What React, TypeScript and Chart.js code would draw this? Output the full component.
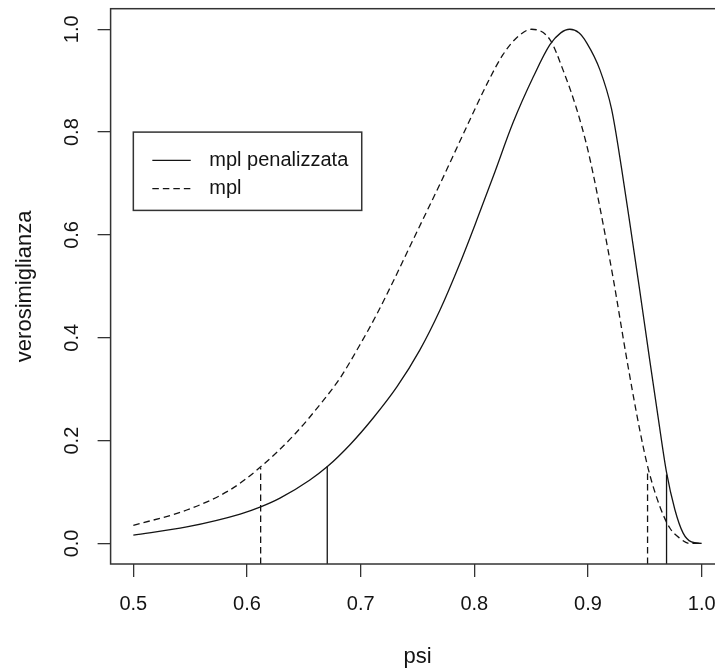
import React, { useEffect, useRef } from "react";
import { Chart, registerables } from "chart.js";

Chart.register(...registerables);

// ---- data ----
const xTicks = [0.5, 0.6, 0.7, 0.8, 0.9, 1.0];
const yTicks = [0.0, 0.2, 0.4, 0.6, 0.8, 1.0];

const xTitle = "psi";
const yTitle = "verosimiglianza";
const legendLabels = ["mpl penalizzata", "mpl"];

// mpl penalizzata (solid)
const psiPen = [
  0.5, 0.547, 0.594, 0.612, 0.629, 0.655, 0.671, 0.691, 0.711, 0.732, 0.752,
  0.77, 0.787, 0.802, 0.817, 0.834, 0.852, 0.8665, 0.876, 0.884, 0.892, 0.899,
  0.9105, 0.9207, 0.9295, 0.938, 0.945, 0.9544, 0.9617, 0.9691, 0.9764,
  0.9837, 0.991, 1.0,
];
const likPen = [
  0.016, 0.032, 0.057, 0.071, 0.088, 0.123, 0.15, 0.193, 0.244, 0.305, 0.376,
  0.455, 0.543, 0.628, 0.716, 0.818, 0.908, 0.97, 0.993, 1.0, 0.993, 0.973,
  0.921, 0.845, 0.73, 0.605, 0.5, 0.355, 0.245, 0.138, 0.066, 0.02, 0.003, 0.0,
];

// mpl (dashed)
const psiMpl = [
  0.5, 0.547, 0.585, 0.611, 0.641, 0.666, 0.682, 0.699, 0.714, 0.7287, 0.7434,
  0.758, 0.77, 0.79, 0.8137, 0.825, 0.837, 0.8504, 0.8665, 0.878, 0.89, 0.8988,
  0.9046, 0.9134, 0.9222, 0.934, 0.9456, 0.953, 0.9632, 0.972, 0.9808, 0.9896,
  1.0,
];
const likMpl = [
  0.035, 0.065, 0.104, 0.147, 0.21, 0.275, 0.322, 0.385, 0.445, 0.51, 0.578,
  0.645, 0.7, 0.795, 0.905, 0.95, 0.983, 1.0, 0.98, 0.921, 0.845, 0.775, 0.718,
  0.62, 0.515, 0.36, 0.22, 0.145, 0.072, 0.03, 0.01, 0.0, 0.0,
];

// interval limits (vertical segments)
const ciPenPsi = [0.6706, 0.9691];
const ciPenTop = [0.15, 0.134];
const ciMplPsi = [0.612, 0.9524];
const ciMplTop = [0.147, 0.143];

const xMin = 0.48;
const xMax = 1.02;
const yMin = -0.04;
const yMax = 1.04;
const legendAnchor = [0.5, 0.8];

const FONT = "'Liberation Sans', Arial, sans-serif";
const INK = "#141414";
const DASH = [6.5, 4];

const pts = (xs: number[], ys: number[]) => xs.map((x, i) => ({ x, y: ys[i] }));

const framePlugin = {
  id: "rframe",
  afterDraw(chart: any) {
    const { ctx, chartArea: a, scales } = chart;
    ctx.save();
    ctx.strokeStyle = "#333";
    ctx.lineWidth = 1.5;
    ctx.strokeRect(a.left, a.top, a.right - a.left, a.bottom - a.top);

    // legend box
    const lx = scales.x.getPixelForValue(legendAnchor[0]);
    const ly = scales.y.getPixelForValue(legendAnchor[1]);
    const w = 228.4;
    const h = 78.3;
    ctx.fillStyle = "#fff";
    ctx.fillRect(lx, ly, w, h);
    ctx.strokeRect(lx, ly, w, h);
    ctx.font = `20px ${FONT}`;
    ctx.textBaseline = "middle";
    ctx.textAlign = "left";
    ctx.fillStyle = INK;
    ctx.strokeStyle = INK;
    ctx.lineWidth = 1.3;
    legendLabels.forEach((lab, i) => {
      const yy = ly + 28.3 + i * 28.3;
      ctx.setLineDash(i === 0 ? [] : DASH);
      ctx.beginPath();
      ctx.moveTo(lx + 19, yy);
      ctx.lineTo(lx + 57.4, yy);
      ctx.stroke();
      ctx.fillText(lab, lx + 76, yy);
    });
    ctx.restore();
  },
};

export default function App() {
  const ref = useRef<HTMLCanvasElement | null>(null);

  useEffect(() => {
    if (!ref.current) return;
    Chart.defaults.font.family = FONT;
    Chart.defaults.color = INK;

    const solid = { borderColor: INK, borderWidth: 1.3, pointRadius: 0, showLine: true, fill: false };
    const dashed = { ...solid, borderDash: DASH };

    const datasets: any[] = [
      { ...solid, label: legendLabels[0], data: pts(psiPen, likPen), cubicInterpolationMode: "monotone" },
      { ...dashed, label: legendLabels[1], data: pts(psiMpl, likMpl), cubicInterpolationMode: "monotone" },
    ];
    ciPenPsi.forEach((p, i) =>
      datasets.push({ ...solid, label: "", data: [{ x: p, y: yMin }, { x: p, y: ciPenTop[i] }] })
    );
    ciMplPsi.forEach((p, i) =>
      datasets.push({ ...dashed, label: "", data: [{ x: p, y: yMin }, { x: p, y: ciMplTop[i] }] })
    );

    const chart = new Chart(ref.current, {
      type: "scatter",
      data: { datasets },
      options: {
        responsive: false,
        animation: false,
        layout: { padding: { left: 0, right: 35.6, top: 8.7, bottom: 0 } },
        plugins: { legend: { display: false }, tooltip: { enabled: false } },
        scales: {
          x: {
            type: "linear",
            min: xMin,
            max: xMax,
            afterBuildTicks: (s: any) => {
              s.ticks = xTicks.map((v) => ({ value: v }));
            },
            afterFit: (s: any) => {
              s.height = 106;
              s.paddingLeft = 0;
              s.paddingRight = 0;
            },
            border: { display: false },
            grid: { drawOnChartArea: false, drawTicks: true, tickLength: 13, color: "#333", lineWidth: 1.3 },
            ticks: {
              autoSkip: false,
              maxRotation: 0,
              padding: 15,
              font: { size: 20 },
              color: INK,
              callback: (v: any) => Number(v).toFixed(1),
            },
            title: { display: true, text: xTitle, font: { size: 22 }, color: INK, padding: { top: 0, bottom: 0 } },
          },
          y: {
            type: "linear",
            min: yMin,
            max: yMax,
            afterBuildTicks: (s: any) => {
              s.ticks = yTicks.map((v) => ({ value: v }));
            },
            afterFit: (s: any) => {
              s.width = 110.6;
              s.paddingTop = 0;
              s.paddingBottom = 0;
            },
            border: { display: false },
            grid: { drawOnChartArea: false, drawTicks: true, tickLength: 13, color: "#333", lineWidth: 1.3 },
            ticks: {
              autoSkip: false,
              minRotation: 90,
              maxRotation: 90,
              crossAlign: "center",
              padding: 11,
              font: { size: 20 },
              color: INK,
              callback: (v: any) => Number(v).toFixed(1),
            },
            title: { display: true, text: yTitle, font: { size: 22 }, color: INK, padding: { top: 12, bottom: 0 } },
          },
        },
      } as any,
      plugins: [framePlugin],
    });
    return () => chart.destroy();
  }, []);

  return (
    <div
      style={{
        position: "fixed",
        left: 0,
        top: 0,
        width: 715,
        height: 670,
        overflow: "hidden",
        background: "#fff",
      }}
    >
      <canvas ref={ref} width={760} height={670} style={{ display: "block", width: 760, height: 670 }} />
    </div>
  );
}
